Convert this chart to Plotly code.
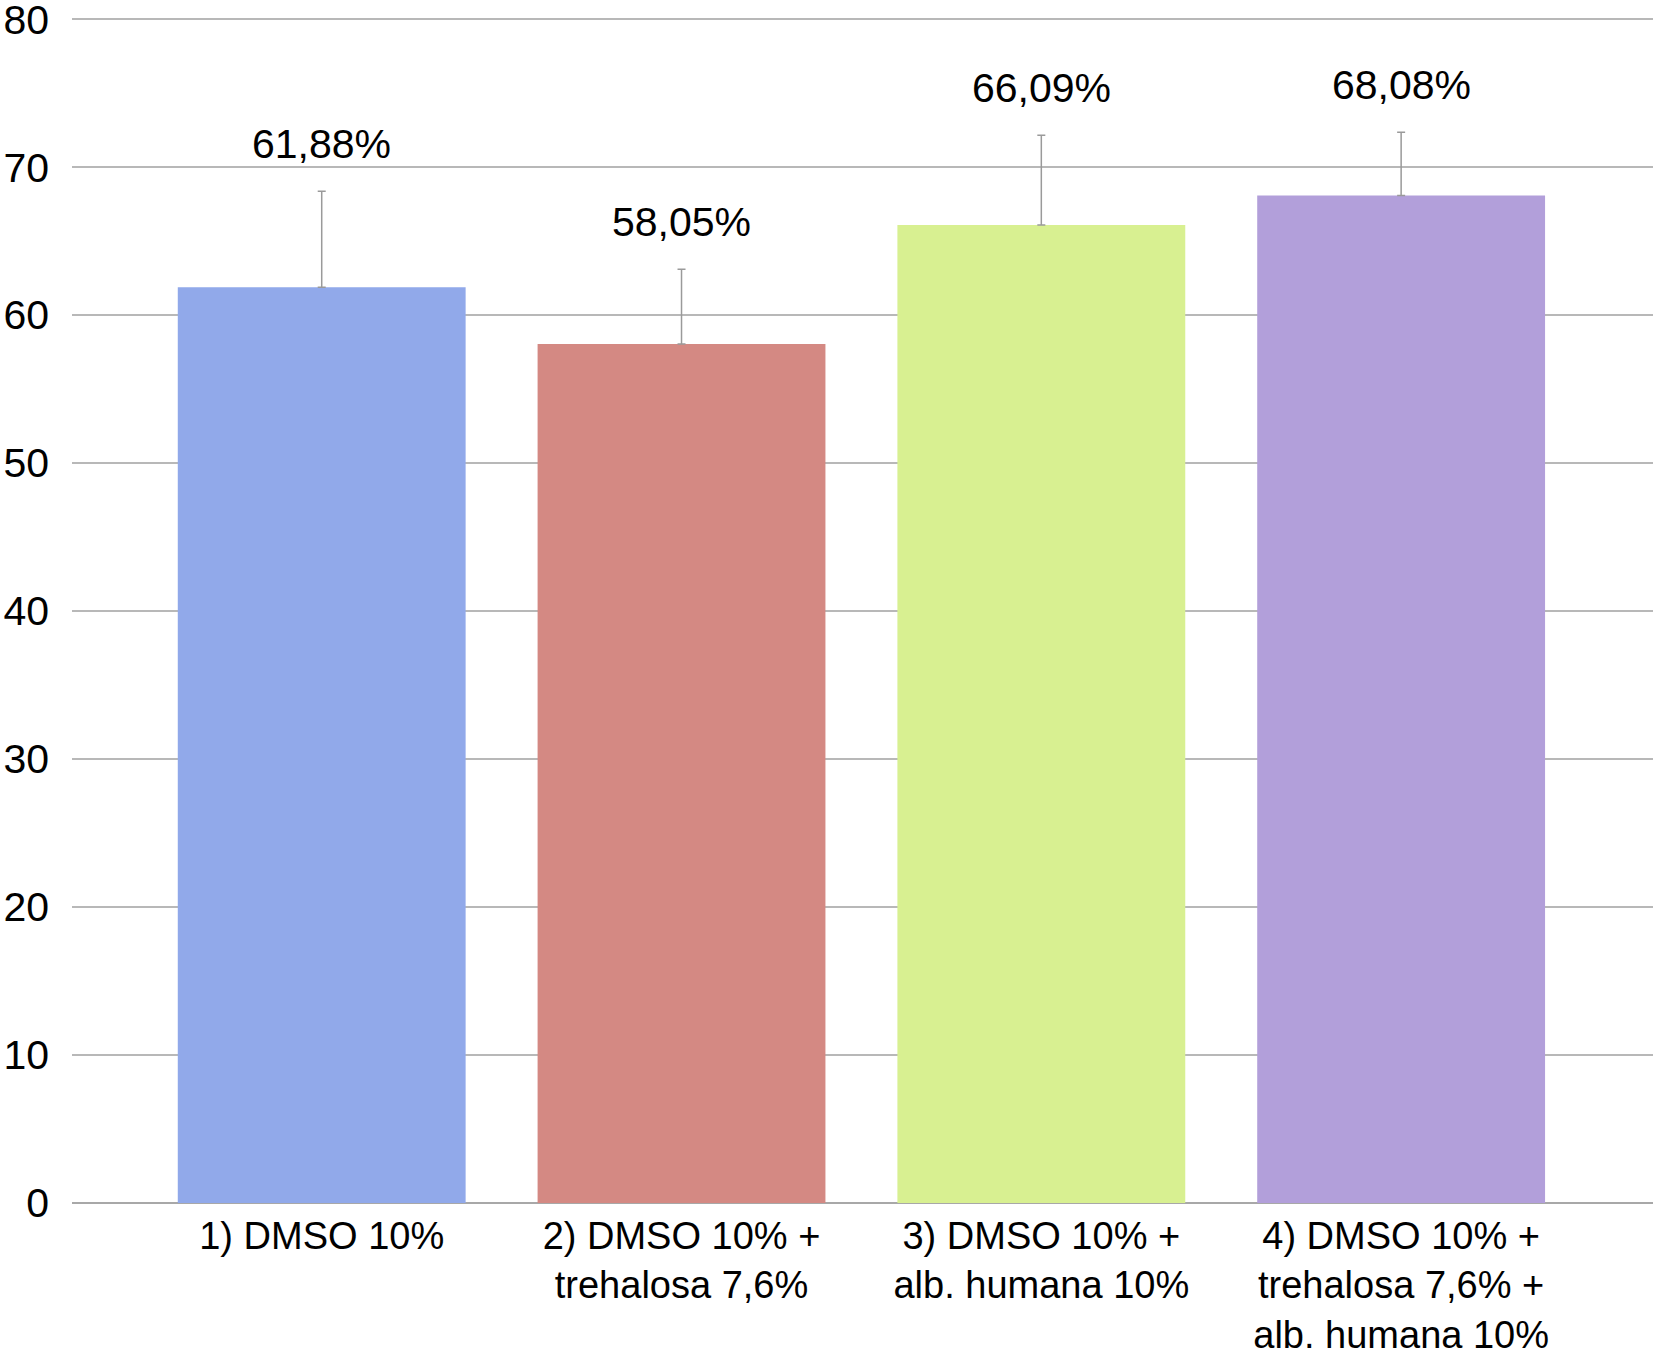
import plotly.graph_objects as go

categories = [
    "1) DMSO 10%",
    "2) DMSO 10% +<br>trehalosa 7,6%",
    "3) DMSO 10% +<br>alb. humana 10%",
    "4) DMSO 10% +<br>trehalosa 7,6% +<br>alb. humana 10%",
]
values = [61.88, 58.05, 66.09, 68.08]
errors_plus = [6.5, 5.05, 6.07, 4.28]
bar_colors = ["#91A9EA", "#D48983", "#D8F091", "#B29FDA"]
y_ticks = [0, 10, 20, 30, 40, 50, 60, 70, 80]

FONT = "Liberation Sans, Arial, Helvetica, sans-serif"

fig = go.Figure()
fig.add_trace(go.Bar(
    x=list(range(len(categories))),
    y=values,
    marker=dict(color=bar_colors, line=dict(width=0)),
    width=0.8,
    error_y=dict(type="data", array=errors_plus, symmetric=False,
                 arrayminus=[0] * len(values),
                 color="#9a9a9a", thickness=1.5, width=4),
    hoverinfo="skip",
))

for i, (v, e) in enumerate(zip(values, errors_plus)):
    fig.add_annotation(
        x=i, y=v + e, xref="x", yref="y",
        text=f"{v:.2f}".replace(".", ",") + "%",
        showarrow=False, yanchor="bottom", yshift=22,
        font=dict(family=FONT, size=41, color="#000000"),
    )

fig.update_layout(
    width=1653, height=1357,
    margin=dict(l=72, r=0, t=18, b=154),
    paper_bgcolor="white", plot_bgcolor="white",
    showlegend=False,
    font=dict(family=FONT, size=38, color="#000000"),
    xaxis=dict(
        range=[-0.694, 3.70],
        tickmode="array",
        tickvals=list(range(len(categories))),
        ticktext=categories,
        showgrid=False, zeroline=False, showline=False,
        ticks="",
        ticklabelstandoff=7,
        automargin=False,
        tickfont=dict(family=FONT, size=38, color="#000000"),
    ),
    yaxis=dict(
        range=[0, 80.08],
        tickmode="array",
        tickvals=y_ticks,
        ticktext=[str(t) for t in y_ticks],
        showgrid=True, gridcolor="#b8b8b8", gridwidth=1.5,
        zeroline=True, zerolinecolor="#a8a8a8", zerolinewidth=1.5,
        showline=False, ticks="",
        ticklabelstandoff=22,
        ticklabeloverflow="allow",
        automargin=False,
        tickfont=dict(family=FONT, size=41, color="#000000"),
    ),
)

fig.write_html(
    "out.html",
    config={"displayModeBar": False},
    post_script="document.body.style.margin='0';document.body.style.overflow='hidden';",
)
